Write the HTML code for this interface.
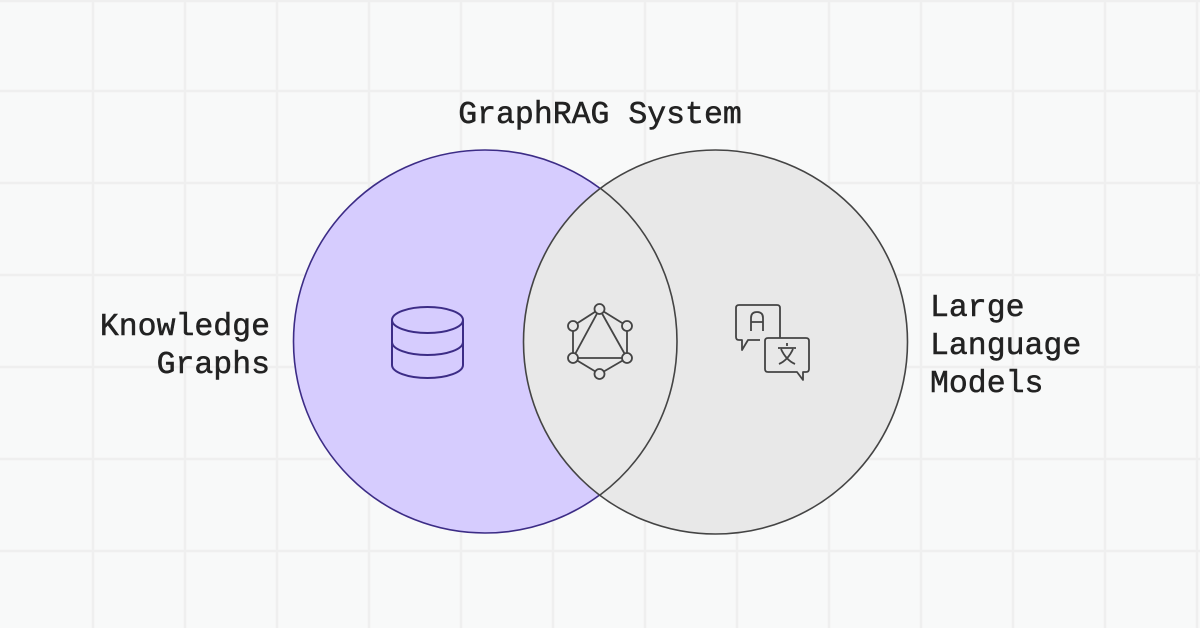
<!DOCTYPE html>
<html><head><meta charset="utf-8"><style>
html,body{margin:0;padding:0;background:#f8f9f9;}
svg{display:block}
text{font-family:"Liberation Mono","DejaVu Sans Mono",monospace;font-size:31.5px;fill:#222;stroke:#222;stroke-width:0.5px;}
</style></head><body>
<svg width="1200" height="628" viewBox="0 0 1200 628" xmlns="http://www.w3.org/2000/svg">
<g stroke="#efefef" stroke-width="2.5">
<line x1="93" y1="0" x2="93" y2="628"/><line x1="185" y1="0" x2="185" y2="628"/><line x1="277" y1="0" x2="277" y2="628"/><line x1="369" y1="0" x2="369" y2="628"/><line x1="461" y1="0" x2="461" y2="628"/><line x1="553" y1="0" x2="553" y2="628"/><line x1="645" y1="0" x2="645" y2="628"/><line x1="737" y1="0" x2="737" y2="628"/><line x1="829" y1="0" x2="829" y2="628"/><line x1="921" y1="0" x2="921" y2="628"/><line x1="1013" y1="0" x2="1013" y2="628"/><line x1="1105" y1="0" x2="1105" y2="628"/><line x1="1197" y1="0" x2="1197" y2="628"/>
<line x1="0" y1="1" x2="1200" y2="1"/><line x1="0" y1="91" x2="1200" y2="91"/><line x1="0" y1="183" x2="1200" y2="183"/><line x1="0" y1="275" x2="1200" y2="275"/><line x1="0" y1="367" x2="1200" y2="367"/><line x1="0" y1="459" x2="1200" y2="459"/><line x1="0" y1="551" x2="1200" y2="551"/>
</g>
<circle cx="485" cy="341.5" r="191.5" fill="#d6ccfe" stroke="#3c2c86" stroke-width="1.6"/>
<circle cx="715.5" cy="342" r="192" fill="#e8e8e8" stroke="#444" stroke-width="1.6"/>
<path d="M600 188 A191.5 191.5 0 0 1 600 495" fill="none" stroke="#444" stroke-width="1.6"/>
<g fill="none" stroke="#3c2c86" stroke-width="2">
<ellipse cx="427.5" cy="320" rx="35.5" ry="13"/>
<path d="M392 320 V365 A35.5 13 0 0 0 463 365 V320"/>
<path d="M392 342 A35.5 13 0 0 0 463 342"/>
</g>
<g fill="none" stroke="#444" stroke-width="1.8">
<polygon points="599.5,309 627,326 627,358 599.5,374 573,358 573,326"/>
<polygon points="599.5,309 627,358 573,358"/>
<circle cx="599.5" cy="309" r="5" fill="#e8e8e8"/><circle cx="627" cy="326" r="5" fill="#e8e8e8"/><circle cx="627" cy="358" r="5" fill="#e8e8e8"/><circle cx="599.5" cy="374" r="5" fill="#e8e8e8"/><circle cx="573" cy="358" r="5" fill="#e8e8e8"/><circle cx="573" cy="326" r="5" fill="#e8e8e8"/>
</g>
<g fill="none" stroke="#444" stroke-width="1.8" stroke-linejoin="round">
<path d="M760 340 H748 L742 350 V340 H739 Q736 340 736 337 V308 Q736 305 739 305 H777 Q780 305 780 308 V338"/>
<path d="M768 338 H806 Q809 338 809 341 V369 Q809 372 806 372 H803 V380 L797 372 H768 Q765 372 765 369 V341 Q765 338 768 338 Z"/>
<path d="M751 331 V318 Q751 312 757 312 Q763 312 763 318 V331 M751 322 H763"/>
<path d="M787 343 V346 M778 348 H796 M781 349 Q786 360 795 364 M793 349 Q788 360 779 364"/>
</g>
<text x="600" y="123" text-anchor="middle">GraphRAG System</text>
<text x="270" y="335" text-anchor="end">Knowledge</text>
<text x="270" y="373" text-anchor="end">Graphs</text>
<text x="930" y="316">Large</text>
<text x="930" y="354">Language</text>
<text x="930" y="392">Models</text>
</svg>
</body></html>
